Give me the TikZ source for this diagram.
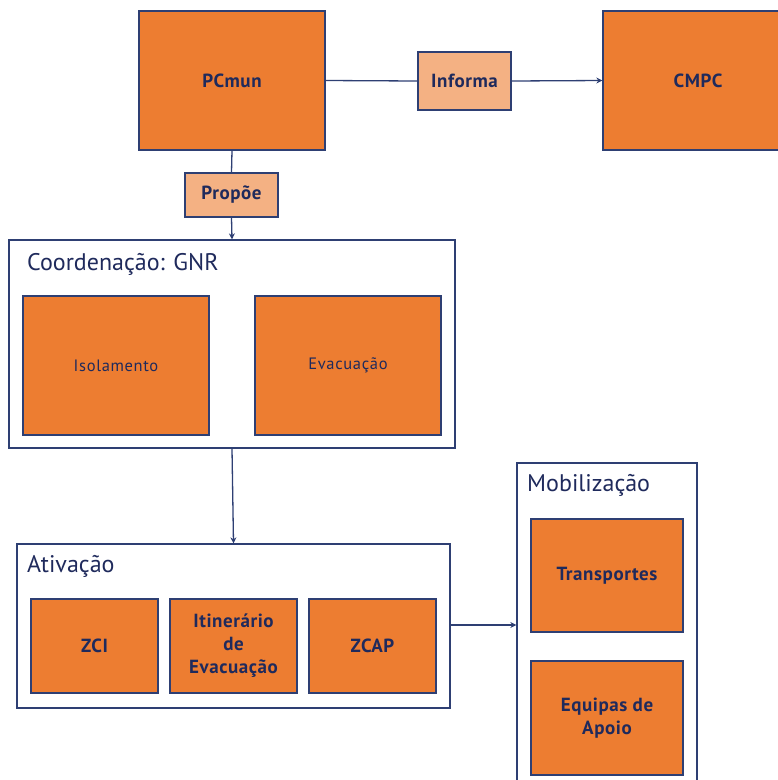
\documentclass[tikz,border=0pt]{standalone}
\usepackage{fontspec}
\setmainfont{PT Sans}
\usetikzlibrary{arrows.meta}
\definecolor{navy}{HTML}{2E3F73}
\definecolor{txt}{HTML}{1F2A5C}
\definecolor{orng}{HTML}{ED7D31}
\definecolor{lorng}{HTML}{F4B183}
\newfontfamily\boldlbl[LetterSpace=3]{PT Sans Bold}
\newfontfamily\reglbl[LetterSpace=4]{PT Sans}
\tikzset{
  obox/.style={draw=navy, line width=1.3pt, fill=orng, inner sep=2pt, align=center, text=txt, font=\boldlbl\fontsize{19}{23}\selectfont},
  sbox/.style={obox, font=\reglbl\fontsize{16.5}{20}\selectfont},
  lbox/.style={obox, fill=lorng},
  cont/.style={draw=navy, line width=1.3pt, fill=white},
  ttl/.style={anchor=base west, text=txt, inner sep=0pt, font=\fontsize{24}{28}\selectfont},
  conn/.style={draw=navy, line width=1.3pt},
  arr/.style={conn, -{Stealth[length=6pt,width=6pt]}},
}
\begin{document}
\begin{tikzpicture}[x=1pt,y=-1pt]
\useasboundingbox (0,0) rectangle (778,780);
\clip (0,0) rectangle (778,780);
% top row
\node[obox, minimum width=186pt, minimum height=139pt] (pc) at (232,80.5) {PCmun};
\node[obox, minimum width=190pt, minimum height=139pt] (cmpc) at (698,80.5) {CMPC};
\node[lbox, minimum width=93pt, minimum height=58pt] (inf) at (464.5,81) {Informa};
\node[lbox, minimum width=93pt, minimum height=44pt] (prop) at (231.5,195) {Propõe};
% Coordenacao container
\node[cont, minimum width=446pt, minimum height=208pt] (coord) at (232,344) {};
\node[ttl] (coordt) at (27,270) {Coordenação: GNR};
\node[sbox, minimum width=186pt, minimum height=139pt] (iso) at (116,365.5) {Isolamento};
\node[sbox, minimum width=186pt, minimum height=139pt] (evac) at (348,365.5) {Evacuação};
% Ativacao container
\node[cont, minimum width=433pt, minimum height=164pt] (ativ) at (233.5,626) {};
\node[ttl] (ativt) at (27,572) {Ativação};
\node[obox, minimum width=127pt, minimum height=94pt] (zci) at (94.5,646) {ZCI};
\node[obox, minimum width=127pt, minimum height=94pt] (itin) at (233.5,646) {Itinerário\\de\\Evacuação};
\node[obox, minimum width=127pt, minimum height=94pt] (zcap) at (372.5,646) {ZCAP};
% Mobilizacao container
\node[cont, minimum width=180pt, minimum height=340pt] (mob) at (607,633) {};
\node[ttl] (mobt) at (527,491) {Mobilização};
\node[obox, minimum width=152pt, minimum height=113pt] (transp) at (607,575.5) {Transportes};
\node[obox, minimum width=152pt, minimum height=114pt] (equip) at (607,718) {Equipas de\\Apoio};
% connectors
\draw[conn] (pc.east) -- (inf.west);
\draw[arr] (inf.east) -- (cmpc.west);
\draw[conn] (pc.south) -- (prop.north);
\draw[arr] (prop.south) -- (coord.north);
\draw[arr] (coord.south) -- (ativ.north);
\coordinate (mobin) at (mob.west |- 0,625);
\draw[arr] (ativ.east |- 0,625) -- (mobin);
\end{tikzpicture}
\end{document}
